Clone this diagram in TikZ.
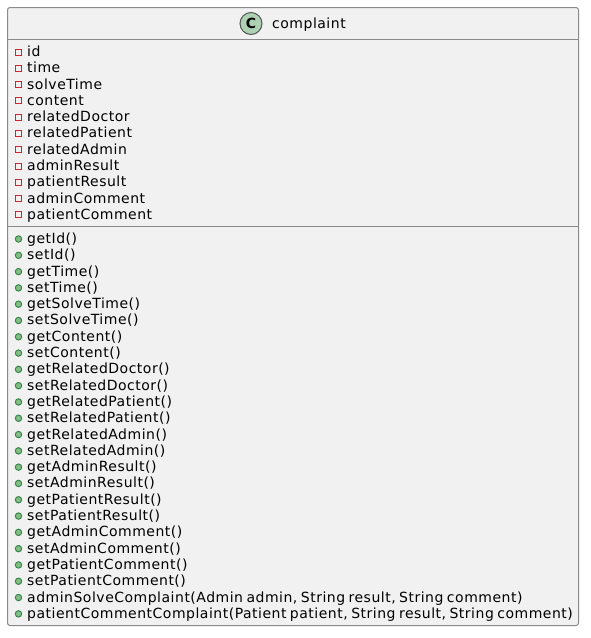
\documentclass[tikz,border=0pt]{standalone}
\usepackage{fontspec}
\setmainfont{DejaVu Sans}[LetterSpace=3.6,WordSpace=0.7]
\definecolor{boxfill}{HTML}{F1F1F1}
\definecolor{boxline}{HTML}{8A8A8A}
\definecolor{privred}{HTML}{C82930}
\definecolor{pubedge}{HTML}{38864A}
\definecolor{pubfill}{HTML}{84BE84}
\definecolor{spotfill}{HTML}{ADD1B2}
\definecolor{spotedge}{HTML}{555555}
\tikzset{
  x=1pt,y=-1pt,
  classbox/.style={draw=boxline,fill=boxfill,line width=1pt,rounded corners=2.5pt},
  sepline/.style={draw=boxline,line width=1pt},
  member/.style={font=\fontsize{14}{16}\selectfont,anchor=base west,inner sep=0pt,text=black},
  privicon/.style={draw=privred,line width=1pt,fill=none,minimum size=6pt,inner sep=0pt,rectangle},
  pubicon/.style={draw=pubedge,line width=1pt,fill=pubfill,minimum size=6.4pt,inner sep=0pt,circle},
  spot/.style={draw=spotedge,line width=1pt,fill=spotfill,circle,minimum size=22pt,inner sep=0pt},
}
\begin{document}
\begin{tikzpicture}
\useasboundingbox (0,0) rectangle (591,638);
\draw[classbox] (7.5,7.5) rectangle (578.5,625.5);
\draw[sepline] (7.5,39.5) -- (578.5,39.5);
\draw[sepline] (7.5,226.5) -- (578.5,226.5);
\node[spot] (c) at (251,23.5) {\fontsize{14}{16}\selectfont\bfseries C};
\node[member] (title) at (272,28.6) {complaint};
\foreach \t [count=\i from 0] in {id,time,solveTime,content,relatedDoctor,relatedPatient,relatedAdmin,adminResult,patientResult,adminComment,patientComment}{
  \pgfmathsetmacro{\yy}{56.5+16.297*\i}
  \node[privicon] (pi\i) at (18.5,\yy-4.5) {};
  \node[member] (pt\i) at (27,\yy) {\t};
}
\foreach \t [count=\i from 0] in {getId(),setId(),getTime(),setTime(),getSolveTime(),setSolveTime(),getContent(),setContent(),getRelatedDoctor(),setRelatedDoctor(),getRelatedPatient(),setRelatedPatient(),getRelatedAdmin(),setRelatedAdmin(),getAdminResult(),setAdminResult(),getPatientResult(),setPatientResult(),getAdminComment(),setAdminComment(),getPatientComment(),setPatientComment(),{adminSolveComplaint(Admin admin, String result, String comment)},{patientCommentComplaint(Patient patient, String result, String comment)}}{
  \pgfmathsetmacro{\yy}{243.5+16.297*\i}
  \node[pubicon] (mi\i) at (18.5,\yy-4.5) {};
  \node[member] (mt\i) at (27,\yy) {\t};
}
\end{tikzpicture}
\end{document}
